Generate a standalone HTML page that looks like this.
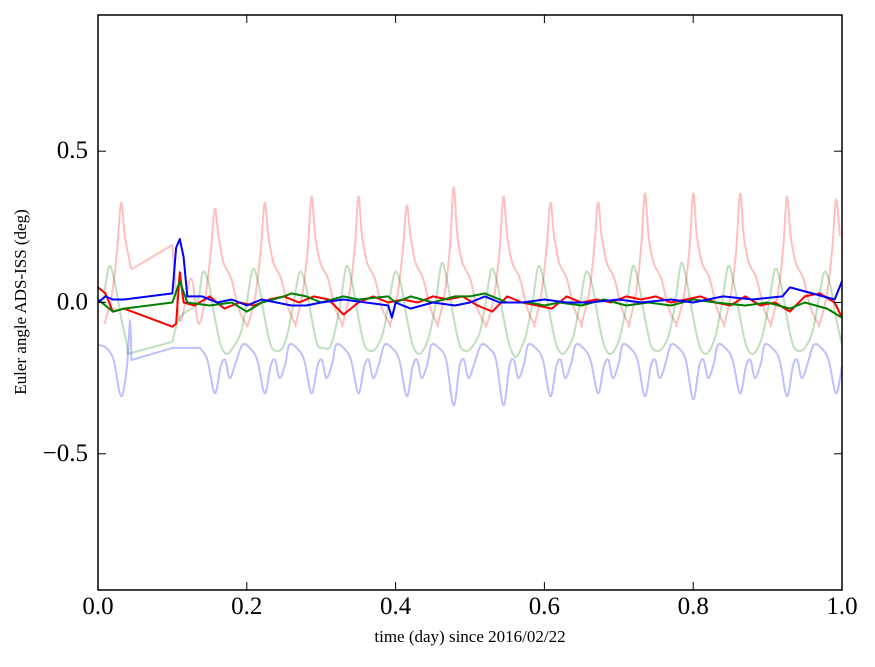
<!DOCTYPE html>
<html><head><meta charset="utf-8"><style>
body{margin:0;background:#fff;width:875px;height:662px;overflow:hidden}
svg{font-family:"Liberation Serif",serif}
</style></head><body>
<svg id="chart" width="875" height="662">
<g id="series"></g>
<rect x="98" y="15" width="744" height="575" fill="none" stroke="#000" stroke-width="1.5"/>
<g id="axes"></g>
<text x="470" y="642" font-size="17" text-anchor="middle">time (day) since 2016/02/22</text>
<text x="26" y="302" font-size="17" text-anchor="middle" transform="rotate(-90 26 302)">Euler angle ADS-ISS (deg)</text>
</svg>
<script>
const xTicks=[0,0.2,0.4,0.6,0.8,1.0];
const xTickLabels=["0.0","0.2","0.4","0.6","0.8","1.0"];
const yTicks=[-0.5,0,0.5];
const yTickLabels=["\u22120.5","0.0","0.5"];
const peakTimes=[0.031,0.157,0.224,0.287,0.35,0.415,0.478,0.545,0.608,0.672,0.735,0.8,0.863,0.926,0.992];
const redPeaks=[0.33,0.31,0.33,0.35,0.35,0.32,0.38,0.35,0.33,0.33,0.36,0.36,0.36,0.35,0.34];
const greenPeaks=[0.12,0.1,0.11,0.1,0.12,0.1,0.13,0.11,0.12,0.1,0.12,0.13,0.12,0.11,0.1];
const greenTroughs=[-0.17,-0.17,-0.16,-0.15,-0.16,-0.17,-0.16,-0.18,-0.17,-0.17,-0.16,-0.17,-0.17,-0.16,-0.16];
const blueDips=[-0.31,-0.3,-0.3,-0.3,-0.3,-0.31,-0.34,-0.34,-0.31,-0.3,-0.31,-0.32,-0.3,-0.31,-0.3];
const gapRedT=[0.045,0.1,0.11,0.125],gapRedV=[0.11,0.19,-0.06,0.08];
const gapGreenT=[0.04,0.1,0.11],gapGreenV=[-0.17,-0.13,-0.05];
const gapBlueT=[0.043,0.1],gapBlueV=[-0.06,-0.15];
const redT=[0,0.01,0.02,0.035,0.1,0.105,0.11,0.115,0.13,0.15,0.17,0.19,0.21,0.23,0.25,0.27,0.29,0.31,0.33,0.35,0.37,0.39,0.41,0.43,0.45,0.47,0.49,0.51,0.53,0.55,0.57,0.59,0.61,0.63,0.65,0.67,0.69,0.71,0.73,0.75,0.77,0.79,0.81,0.83,0.85,0.87,0.89,0.91,0.93,0.95,0.97,0.99,1];
const redV=[0.05,0.03,-0.03,-0.02,-0.08,-0.07,0.1,0.0,-0.01,0.02,-0.02,0.0,-0.01,0.01,0.02,0.0,0.02,0.01,-0.04,0.0,0.02,0.0,0.01,0.0,0.02,0.01,0.02,-0.01,-0.03,0.02,0.0,-0.01,-0.02,0.02,0.0,0.01,0.0,0.02,0.01,0.02,0.0,0.01,0.02,0.0,-0.01,0.02,-0.01,0.0,-0.03,0.02,0.03,0.0,-0.05];
const greenT=[0,0.02,0.035,0.1,0.11,0.12,0.15,0.18,0.2,0.22,0.25,0.26,0.28,0.3,0.33,0.35,0.39,0.4,0.42,0.45,0.48,0.5,0.52,0.55,0.58,0.6,0.62,0.65,0.68,0.71,0.74,0.77,0.8,0.83,0.87,0.9,0.93,0.95,0.98,1];
const greenV=[0.01,-0.03,-0.02,0.0,0.07,0.0,-0.01,0.0,-0.03,0.0,0.02,0.03,0.02,0.0,0.02,0.01,0.02,0.0,0.02,0.0,0.02,0.02,0.03,0.0,0.0,-0.01,0.0,-0.01,0.01,-0.01,0.0,-0.01,0.01,0.0,-0.01,0.0,-0.02,0.0,-0.02,-0.05];
const blueT=[0,0.01,0.02,0.035,0.1,0.105,0.11,0.115,0.12,0.14,0.16,0.18,0.2,0.22,0.24,0.26,0.28,0.3,0.33,0.36,0.39,0.395,0.4,0.42,0.45,0.48,0.5,0.52,0.54,0.57,0.6,0.63,0.66,0.7,0.73,0.77,0.8,0.84,0.88,0.92,0.93,0.96,0.99,1];
const blueV=[0.0,0.02,0.01,0.01,0.03,0.18,0.21,0.15,0.02,0.02,0.0,0.01,-0.01,0.01,0.0,-0.01,-0.01,0.0,0.01,0.0,-0.01,-0.05,0.0,-0.02,0.0,-0.01,0.0,0.02,0.0,0.0,0.01,0.0,0.0,0.01,0.0,0.01,0.0,0.02,0.01,0.02,0.05,0.03,0.01,0.07];

const X=t=>98+t*744, Y=v=>302.5-v*302.6;
const NS='http://www.w3.org/2000/svg';
const sg=document.getElementById('series'), ag=document.getElementById('axes');
function inGap(t){return t>0.045&&t<0.1;}
function build(fn,gt,gv){
  let pts=[];
  peakTimes.forEach((P,i)=>fn(P,i).forEach(p=>pts.push(p)));
  pts=pts.filter(p=>p[0]>=0&&p[0]<=1&&!inGap(p[0])&&!(p[0]>=0.1&&p[0]<0.13));
  gt.forEach((t,i)=>pts.push([t,gv[i]]));
  pts.sort((a,b)=>a[0]-b[0]);
  return pts;
}
const lightRed=build((P,i)=>[[P-0.022,-0.07],[P-0.012,0.03],[P-0.005,0.18],[P,redPeaks[i]],[P+0.005,0.22],[P+0.012,0.13],[P+0.022,0.08],[P+0.032,-0.02],[P+0.042,-0.07]],gapRedT,gapRedV);
const lightGreen=build((P,i)=>[[P-0.032,-0.1],[P-0.024,0.0],[P-0.016,greenPeaks[i]],[P-0.008,0.06],[P,-0.05],[P+0.008,-0.14],[P+0.016,greenTroughs[i]],[P+0.024,-0.15]],gapGreenT,gapGreenV);
const lightBlue=build((P,i)=>[[P-0.03,-0.14],[P-0.02,-0.15],[P-0.01,-0.19],[P,blueDips[i]],[P+0.008,-0.21],[P+0.014,-0.19],[P+0.02,-0.25],[P+0.028,-0.2]],gapBlueT,gapBlueV);
function smoothPath(pts){
  const P=pts.map(q=>[X(q[0]),Y(q[1])]);
  const long=i=>i>=0&&i<pts.length-1&&(pts[i+1][0]-pts[i][0])>0.03;
  let d='M'+P[0][0].toFixed(1)+','+P[0][1].toFixed(1);
  for(let i=0;i<P.length-1;i++){
    const p1=P[i],p2=P[i+1];
    if(long(i)){d+=' L'+p2[0].toFixed(1)+','+p2[1].toFixed(1);continue;}
    const p0=(i>0&&!long(i-1))?P[i-1]:p1;
    const p3=(i+2<P.length&&!long(i+1))?P[i+2]:p2;
    const c1=[p1[0]+(p2[0]-p0[0])/6,p1[1]+(p2[1]-p0[1])/6];
    const c2=[p2[0]-(p3[0]-p1[0])/6,p2[1]-(p3[1]-p1[1])/6];
    d+=' C'+c1.map(v=>v.toFixed(1)).join(',')+' '+c2.map(v=>v.toFixed(1)).join(',')+' '+p2[0].toFixed(1)+','+p2[1].toFixed(1);
  }
  return d;
}
function draw(pts,color,w,name,smooth){
  let p;
  if(smooth){p=document.createElementNS(NS,'path');p.setAttribute('d',smoothPath(pts));}
  else{p=document.createElementNS(NS,'polyline');
  p.setAttribute('points',pts.map(q=>X(q[0]).toFixed(1)+','+Y(q[1]).toFixed(1)).join(' '));}
  p.setAttribute('fill','none');p.setAttribute('stroke',color);p.setAttribute('stroke-width',w);
  p.setAttribute('stroke-linejoin','round');
  
  
  sg.appendChild(p);
}
const zip=(a,b)=>a.map((t,i)=>[t,b[i]]);
draw(lightRed,'rgba(255,0,0,0.25)',2,'series-red-light',true);
draw(lightGreen,'rgba(0,128,0,0.25)',2,'series-green-light',true);
draw(lightBlue,'rgba(0,0,255,0.25)',2,'series-blue-light',true);
draw(zip(redT,redV),'#f00',2,'series-red',false);
draw(zip(greenT,greenV),'#008000',2,'series-green',false);
draw(zip(blueT,blueV),'#00f',2,'series-blue',false);
function line(x1,y1,x2,y2,name){
  const l=document.createElementNS(NS,'line');
  l.setAttribute('x1',x1);l.setAttribute('y1',y1);l.setAttribute('x2',x2);l.setAttribute('y2',y2);
  l.setAttribute('stroke','#000');l.setAttribute('stroke-width',1);
  
  
  ag.appendChild(l);
}
function text(x,y,s,anchor,name){
  const t=document.createElementNS(NS,'text');
  t.setAttribute('x',x);t.setAttribute('y',y);t.setAttribute('font-size','25');t.setAttribute('text-anchor',anchor);
  t.textContent=s;
  
  
  ag.appendChild(t);
}
xTicks.forEach((v,i)=>{const x=X(v);line(x,590,x,582,'x-tick');line(x,15,x,23,'x-tick-top');text(x,614,xTickLabels[i],'middle','x-tick-label');});
yTicks.forEach((v,i)=>{const y=Y(v);line(98,y,106,y,'y-tick');line(842,y,834,y,'y-tick-right');text(88,y+7,yTickLabels[i],'end','y-tick-label');});
</script>
</body></html>
